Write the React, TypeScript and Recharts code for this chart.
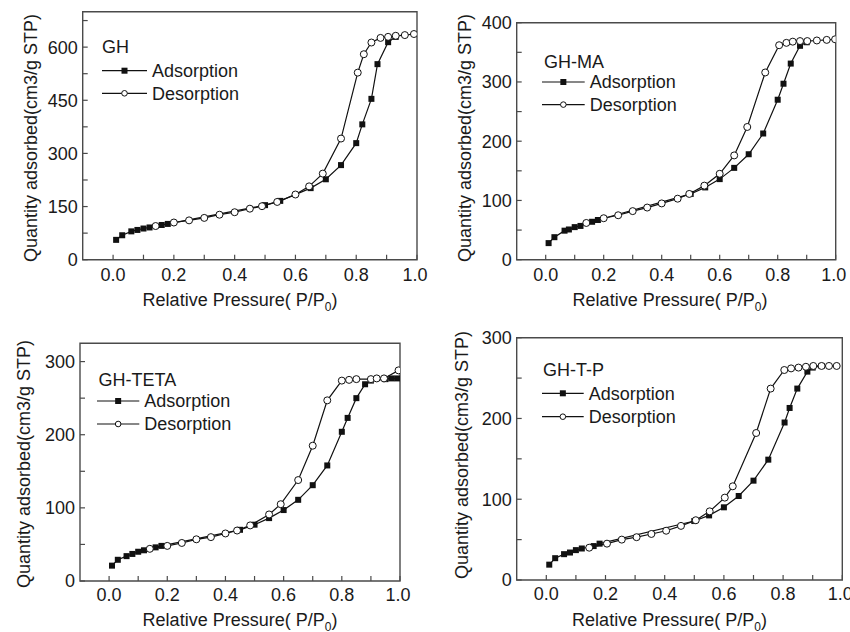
import React from 'react';
import { LineChart, Line, XAxis, YAxis, ReferenceArea, Legend } from 'recharts';

const FONT = '"Liberation Sans", Arial, Helvetica, sans-serif';
const TEXT = '#1a1a1a';
const AXIS = '#4a4a4a';
const LINE = '#111111';

// ---------- data (relative pressure P/P0, quantity adsorbed) ----------
const GH_ADS_P = [0.01, 0.03, 0.06, 0.08, 0.10, 0.12, 0.16, 0.18, 0.50, 0.55, 0.65, 0.70, 0.75, 0.80, 0.82, 0.85, 0.87, 0.905, 0.93];
const GH_ADS_Q = [56, 69, 80, 84, 88, 91, 98, 101, 154, 166, 202, 227, 267, 329, 382, 454, 552, 614, 629];
const GH_DES_P = [0.14, 0.20, 0.25, 0.30, 0.35, 0.40, 0.45, 0.49, 0.54, 0.60, 0.645, 0.69, 0.75, 0.805, 0.825, 0.85, 0.88, 0.905, 0.93, 0.96, 0.99];
const GH_DES_Q = [95, 105, 111, 118, 127, 134, 144, 151, 163, 184, 207, 243, 342, 528, 580, 613, 626, 629, 632, 634, 637];

const MA_ADS_P = [0.01, 0.03, 0.065, 0.08, 0.10, 0.12, 0.16, 0.18, 0.50, 0.55, 0.60, 0.65, 0.70, 0.75, 0.80, 0.82, 0.845, 0.877, 0.90];
const MA_ADS_Q = [28, 38, 49, 51, 55, 57, 64, 67, 111, 122, 136, 155, 178, 213, 270, 297, 331, 361, 367];
const MA_DES_P = [0.14, 0.20, 0.25, 0.30, 0.35, 0.40, 0.455, 0.495, 0.547, 0.60, 0.65, 0.695, 0.757, 0.805, 0.83, 0.852, 0.877, 0.902, 0.935, 0.969, 0.998];
const MA_DES_Q = [62, 70, 75, 82, 88, 95, 103, 111, 125, 145, 176, 224, 316, 362, 366, 368, 369, 369, 370, 371, 372];

const TETA_ADS_P = [0.01, 0.03, 0.06, 0.08, 0.10, 0.12, 0.16, 0.18, 0.45, 0.50, 0.55, 0.60, 0.65, 0.70, 0.75, 0.80, 0.82, 0.85, 0.88, 0.90, 0.95, 0.97, 0.99];
const TETA_ADS_Q = [21, 29, 34, 37, 40, 42, 46, 48, 70, 77, 86, 97, 111, 131, 158, 204, 223, 250, 269, 274, 276, 277, 277];
const TETA_DES_P = [0.14, 0.20, 0.25, 0.30, 0.35, 0.40, 0.44, 0.485, 0.55, 0.59, 0.65, 0.70, 0.75, 0.80, 0.825, 0.85, 0.90, 0.92, 0.945, 0.995];
const TETA_DES_Q = [44, 48, 52, 57, 60, 65, 69, 76, 91, 105, 138, 185, 247, 274, 275, 276, 276, 277, 277, 288];

const TP_ADS_P = [0.01, 0.03, 0.06, 0.08, 0.10, 0.12, 0.16, 0.18, 0.50, 0.55, 0.60, 0.65, 0.70, 0.75, 0.805, 0.822, 0.848, 0.882, 0.90, 0.93];
const TP_ADS_Q = [19, 27, 32, 34, 37, 39, 42, 45, 73, 80, 90, 104, 123, 149, 195, 213, 237, 258, 263, 265];
const TP_DES_P = [0.145, 0.205, 0.255, 0.305, 0.355, 0.405, 0.455, 0.505, 0.552, 0.603, 0.63, 0.709, 0.758, 0.804, 0.827, 0.852, 0.877, 0.902, 0.93, 0.955, 0.981];
const TP_DES_Q = [40, 45, 50, 53, 57, 61, 67, 74, 85, 102, 116, 182, 237, 260, 262, 263, 264, 265, 265, 265, 265];

const X_TICKS = [0, 0.1, 0.2, 0.3, 0.4, 0.5, 0.6, 0.7, 0.8, 0.9, 1.0];
const GH_Y_TICKS = [0, 75, 150, 225, 300, 375, 450, 525, 600, 675];
const MA_Y_TICKS = [0, 50, 100, 150, 200, 250, 300, 350, 400];
const TETA_Y_TICKS = [0, 50, 100, 150, 200, 250, 300];
const TP_Y_TICKS = [0, 50, 100, 150, 200, 250, 300];

const SERIES_NAMES = ['Adsorption', 'Desorption'];
const X_TITLE = 'Relative Pressure( P/P';
const Y_TITLE = 'Quantity adsorbed(cm3/g STP)';

const zip = (p: number[], q: number[]) => p.map((x, i) => ({ x, y: q[i] }));

// ---------- panel layout ----------
const PANELS = [
  {
    name: 'GH', ads: zip(GH_ADS_P, GH_ADS_Q), des: zip(GH_DES_P, GH_DES_Q),
    yTicks: GH_Y_TICKS, yMax: 700, yStep: 150,
    box: { left: 0, top: 0, width: 425, height: 318 },
    margin: { top: 11.7, right: 8 }, yAxisW: 82.7, xAxisH: 58.3, xTickMargin: 9,
    xTitle: { x: 240, y: 306 }, yTitle: { x: 31, y: 138 },
    legend: { left: 102, top: 35, titleDx: 0, r1: 35.7, r2: 58.3, textX: 50 },
  },
  {
    name: 'GH-MA', ads: zip(MA_ADS_P, MA_ADS_Q), des: zip(MA_DES_P, MA_DES_Q),
    yTicks: MA_Y_TICKS, yMax: 400, yStep: 100,
    box: { left: 425, top: 0, width: 425, height: 318 },
    margin: { top: 22.7, right: 14.3 }, yAxisW: 91.7, xAxisH: 58.3, xTickMargin: 9,
    xTitle: { x: 245, y: 306 }, yTitle: { x: 40, y: 138 },
    legend: { left: 117.3, top: 49.7, titleDx: 2, r1: 32, r2: 54.6, textX: 47.7 },
  },
  {
    name: 'GH-TETA', ads: zip(TETA_ADS_P, TETA_ADS_Q), des: zip(TETA_DES_P, TETA_DES_Q),
    yTicks: TETA_Y_TICKS, yMax: 325, yStep: 100,
    box: { left: 0, top: 318, width: 425, height: 314 },
    margin: { top: 25.3, right: 25 }, yAxisW: 80, xAxisH: 51, xTickMargin: 7,
    xTitle: { x: 240, y: 307.5 }, yTitle: { x: 24, y: 146 },
    legend: { left: 96.7, top: 50, titleDx: 1.6, r1: 33, r2: 56, textX: 47.3 },
  },
  {
    name: 'GH-T-P', ads: zip(TP_ADS_P, TP_ADS_Q), des: zip(TP_DES_P, TP_DES_Q),
    yTicks: TP_Y_TICKS, yMax: 300, yStep: 100,
    box: { left: 425, top: 318, width: 425, height: 314 },
    margin: { top: 19.7, right: 7.7 }, yAxisW: 91.7, xAxisH: 52, xTickMargin: 7,
    xTitle: { x: 244.5, y: 307.5 }, yTitle: { x: 37, y: 137 },
    legend: { left: 117.3, top: 40, titleDx: 1, r1: 35.3, r2: 58.7, textX: 46.7 },
  },
];

const TICK_LEN = 5;

const makeXTick = (m: number) => (props: any) => {
  const { x, y, payload } = props;
  const ay = y - m;
  const v = payload.value as number;
  const major = Math.round(v * 10) % 2 === 0;
  return (
    <g>
      <line x1={x} x2={x} y1={ay} y2={ay - TICK_LEN} stroke={AXIS} strokeWidth={1.2} />
      {major && (
        <text x={v === 1 ? x - 2 : x} y={y} dy="0.71em" textAnchor="middle" fontSize={18} fontFamily={FONT} fill={TEXT}>
          {v.toFixed(1)}
        </text>
      )}
    </g>
  );
};

const Y_TICK_MARGIN = 5;
const makeYTick = (step: number) => (props: any) => {
  const { x, y, payload } = props;
  const ax = x + Y_TICK_MARGIN;
  const v = payload.value as number;
  const major = v % step === 0;
  return (
    <g>
      <line x1={ax} x2={ax + TICK_LEN} y1={y} y2={y} stroke={AXIS} strokeWidth={1.2} />
      {major && (
        <text x={x} y={y} dy="0.355em" textAnchor="end" fontSize={18} fontFamily={FONT} fill={TEXT}>
          {v}
        </text>
      )}
    </g>
  );
};

const squareDot = (props: any) => {
  const { cx, cy, index } = props;
  if (cx == null || cy == null) return <g key={`s${index}`} />;
  return <rect key={`s${index}`} x={cx - 3} y={cy - 3} width={6} height={6} fill={LINE} />;
};

const LegendBox = ({ p }: { p: any }) => {
  const L = p.legend;
  const symW = L.textX - 5;
  const mid = symW / 2;
  return (
    <svg width={190} height={75} style={{ display: 'block', overflow: 'visible' }}>
      <text x={L.titleDx} y={12} dy="0.355em" fontSize={18} fontFamily={FONT} fill={TEXT}>{p.name}</text>
      <line x1={0} x2={symW} y1={L.r1} y2={L.r1} stroke={LINE} strokeWidth={1.2} />
      <rect x={mid - 3} y={L.r1 - 3} width={6} height={6} fill={LINE} />
      <text x={L.textX} y={L.r1} dy="0.355em" fontSize={18} fontFamily={FONT} fill={TEXT}>{SERIES_NAMES[0]}</text>
      <line x1={0} x2={symW} y1={L.r2} y2={L.r2} stroke={LINE} strokeWidth={1.2} />
      <circle cx={mid} cy={L.r2} r={2.8} fill="#fff" stroke={LINE} strokeWidth={1} />
      <text x={L.textX} y={L.r2} dy="0.355em" fontSize={18} fontFamily={FONT} fill={TEXT}>{SERIES_NAMES[1]}</text>
    </svg>
  );
};

const Panel = ({ p }: { p: any }) => {
  const xTitle = () => (
    <text x={p.xTitle.x} y={p.xTitle.y} textAnchor="middle" fontSize={18} fontFamily={FONT} fill={TEXT}>
      {X_TITLE}
      <tspan fontSize={12} dy={5}>0</tspan>
      <tspan dy={-5}>)</tspan>
    </text>
  );
  const yTitle = () => (
    <text
      x={p.yTitle.x}
      y={p.yTitle.y}
      dy="0.355em"
      textAnchor="middle"
      fontSize={18}
      fontFamily={FONT}
      fill={TEXT}
      transform={`rotate(-90, ${p.yTitle.x}, ${p.yTitle.y})`}
    >
      {Y_TITLE}
    </text>
  );
  return (
    <div style={{ position: 'absolute', left: p.box.left, top: p.box.top, width: p.box.width, height: p.box.height }}>
      <LineChart
        width={p.box.width}
        height={p.box.height}
        margin={{ top: p.margin.top, right: p.margin.right, left: 0, bottom: 0 }}
      >
        <XAxis
          dataKey="x"
          type="number"
          domain={[-0.1, 1.0]}
          allowDataOverflow
          ticks={X_TICKS}
          interval={0}
          height={p.xAxisH}
          axisLine={false}
          tickLine={false}
          tickSize={0}
          tickMargin={p.xTickMargin}
          tick={makeXTick(p.xTickMargin)}
          label={xTitle}
        />
        <YAxis
          dataKey="y"
          type="number"
          domain={[0, p.yMax]}
          allowDataOverflow
          ticks={p.yTicks}
          interval={0}
          width={p.yAxisW}
          axisLine={false}
          tickLine={false}
          tickSize={0}
          tickMargin={Y_TICK_MARGIN}
          tick={makeYTick(p.yStep)}
          label={yTitle}
        />
        <ReferenceArea
          x1={-0.1}
          x2={1.0}
          y1={0}
          y2={p.yMax}
          fill="none"
          fillOpacity={0}
          stroke={AXIS}
          strokeWidth={1.4}
          ifOverflow="visible"
        />
        <Line
          data={p.ads}
          dataKey="y"
          name={SERIES_NAMES[0]}
          type="linear"
          stroke={LINE}
          strokeWidth={1.2}
          dot={squareDot}
          activeDot={false}
          isAnimationActive={false}
        />
        <Line
          data={p.des}
          dataKey="y"
          name={SERIES_NAMES[1]}
          type="linear"
          stroke={LINE}
          strokeWidth={1.2}
          dot={{ r: 3.5, fill: '#fff', stroke: LINE, strokeWidth: 1 }}
          activeDot={false}
          isAnimationActive={false}
        />
        <Legend
          layout="vertical"
          align="center"
          verticalAlign="middle"
          wrapperStyle={{ left: p.legend.left, top: p.legend.top, width: 190, height: 75 }}
          content={() => <LegendBox p={p} />}
        />
      </LineChart>
    </div>
  );
};

export default function App() {
  return (
    <div style={{ position: 'absolute', left: 0, top: 0, width: 850, height: 632, background: '#fff', overflow: 'hidden' }}>
      <style>{`.recharts-surface { overflow: visible; }`}</style>
      {PANELS.map((p) => (
        <Panel key={p.name} p={p} />
      ))}
    </div>
  );
}
